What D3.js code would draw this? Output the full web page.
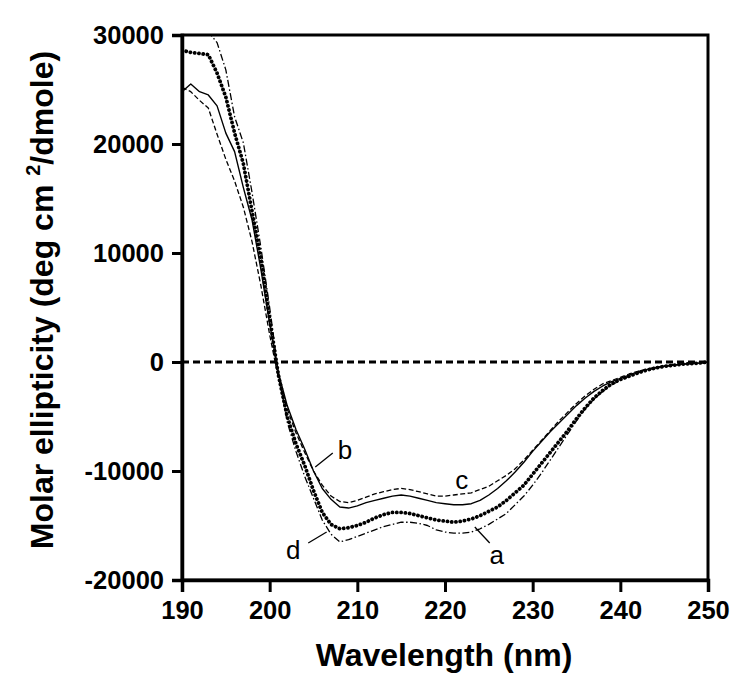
<!DOCTYPE html>
<html><head><meta charset="utf-8">
<script src="https://cdn.jsdelivr.net/npm/d3@7"></script>
<style>body{margin:0;background:#fff}</style>
</head><body>
<svg id="chart" width="750" height="685"></svg>
<script>
const wavelengths = d3.range(190, 251, 1);
const seriesA = [28600,28400,28300,28200,26500,24300,21000,18200,13800,9500,4000,-1200,-5000,-7500,-9500,-11800,-13800,-14900,-15300,-15200,-15000,-14700,-14300,-14000,-13800,-13800,-13900,-14100,-14300,-14500,-14600,-14700,-14600,-14400,-14100,-13700,-13300,-12700,-12000,-11300,-10300,-9300,-8300,-7300,-6300,-5200,-4200,-3300,-2600,-2000,-1600,-1300,-1000,-750,-550,-400,-300,-200,-150,-100,0];
const seriesB = [24800,25500,24800,24500,23500,21000,19300,16000,13000,8500,3500,-1000,-4000,-6200,-8000,-10000,-11600,-12600,-13300,-13400,-13200,-12900,-12700,-12500,-12300,-12200,-12300,-12500,-12700,-12900,-13000,-13100,-13100,-13000,-12700,-12200,-11600,-10900,-10100,-9200,-8200,-7300,-6400,-5600,-4800,-4000,-3300,-2700,-2200,-1800,-1500,-1200,-900,-700,-500,-400,-300,-200,-150,-100,0];
const seriesC = [25200,24800,24000,23300,20900,18600,16600,14200,11000,7000,2500,-1500,-4300,-6500,-8300,-10000,-11300,-12300,-12800,-12900,-12700,-12400,-12100,-11900,-11700,-11600,-11700,-11900,-12100,-12300,-12300,-12200,-12100,-12000,-11700,-11400,-10900,-10400,-9800,-9000,-8100,-7200,-6300,-5400,-4600,-3800,-3100,-2500,-2000,-1700,-1400,-1100,-850,-650,-500,-350,-250,-200,-150,-100,0];
const seriesD = [31000,31000,30800,30300,29300,26800,22500,20100,15500,10500,5000,-1000,-5500,-8200,-10500,-12500,-14500,-15800,-16500,-16300,-16000,-15700,-15400,-15100,-14900,-14700,-14700,-14800,-15000,-15400,-15600,-15700,-15700,-15600,-15300,-14900,-14400,-13900,-13100,-12300,-11300,-10200,-9000,-7800,-6600,-5400,-4300,-3400,-2700,-2100,-1700,-1300,-1000,-750,-550,-400,-300,-200,-150,-100,0];
const xTicks = [190,200,210,220,230,240,250];
const yTicks = [-20000,-10000,0,10000,20000,30000];
const seriesNames = ["a","b","c","d"];
const labelPos = [[225.9,-17700],[208.6,-8070],[221.9,-10830],[202.7,-17250]];
const leaders = [[[225.1,-16600],[223.4,-15140]],[[207.2,-8350],[205.2,-9630]],null,[[204.4,-16600],[206.5,-15600]]];

const svg = d3.select("#chart");
const L=182, R=708, T=35, B=580;
const x = d3.scaleLinear().domain([190,250]).range([L,R]);
const y = d3.scaleLinear().domain([-20000,30000]).range([B,T]);

svg.append("defs").append("clipPath").attr("id","clip")
  .append("rect").attr("x",L).attr("y",T).attr("width",R-L).attr("height",B-T);

// zero line
svg.append("line").attr("x1",L).attr("x2",R).attr("y1",y(0)).attr("y2",y(0))
  .attr("stroke","#000").attr("stroke-width",3).attr("stroke-dasharray","7,4");

const styles = [
  {w:3.8, dash:"0.1,4.2", cap:"round"},
  {w:1.4, dash:null, cap:"butt"},
  {w:1.3, dash:"5,2.5", cap:"butt"},
  {w:1.3, dash:"7,2.5,1.5,2.5", cap:"butt"}
];
const allSeries = [seriesA, seriesB, seriesC, seriesD];
const line = d3.line().x((d,i)=>x(wavelengths[i])).y(d=>y(d));
const g = svg.append("g").attr("clip-path","url(#clip)");
allSeries.forEach((s,k)=>{
  g.append("path").datum(s).attr("d",line).attr("fill","none")
   .attr("stroke","#000").attr("stroke-width",styles[k].w)
   .attr("stroke-linecap",styles[k].cap)
   .attr("stroke-linejoin","round")
   .attr("stroke-dasharray",styles[k].dash);
});

// frame
svg.append("rect").attr("x",L).attr("y",T).attr("width",R-L).attr("height",B-T)
  .attr("fill","none").attr("stroke","#000").attr("stroke-width",3);

// axes
const fmt = d => String(d);
const xAxis = d3.axisBottom(x).tickValues(xTicks).tickSize(12).tickPadding(9).tickFormat(fmt);
const yAxis = d3.axisLeft(y).tickValues(yTicks).tickSize(10).tickPadding(8).tickFormat(fmt);
const gx = svg.append("g").attr("transform",`translate(0,${B})`).call(xAxis);
const gy = svg.append("g").attr("transform",`translate(${L},0)`).call(yAxis);
[gx,gy].forEach(a=>{
  a.select(".domain").attr("stroke-width",3.5);
  a.selectAll(".tick line").attr("stroke-width",3);
  a.selectAll("text").attr("font-family","Liberation Sans, Arial, sans-serif")
   .attr("font-weight","bold").attr("font-size",25.5).attr("fill","#000");
});

// axis titles
svg.append("text").attr("x",(L+R)/2 - 1).attr("y",666)
  .attr("text-anchor","middle").attr("font-family","Liberation Sans, Arial, sans-serif")
  .attr("font-weight","bold").attr("font-size",32).text("Wavelength (nm)");
const yt = svg.append("text").attr("transform","translate(53,300) rotate(-90)")
  .attr("text-anchor","middle").attr("font-family","Liberation Sans, Arial, sans-serif")
  .attr("font-weight","bold").attr("font-size",32);
yt.append("tspan").text("Molar ellipticity (deg cm ");
yt.append("tspan").attr("font-size",20).attr("dy",-13).text("2");
yt.append("tspan").attr("dy",13).text("/dmole)");

// series labels
seriesNames.forEach((n,k)=>{
  svg.append("text").attr("x",x(labelPos[k][0])).attr("y",y(labelPos[k][1]))
    .attr("text-anchor","middle").attr("dominant-baseline","central")
    .attr("font-family","Liberation Sans, Arial, sans-serif").attr("font-size",26).text(n);
  if(leaders[k]){
    svg.append("line").attr("x1",x(leaders[k][0][0])).attr("y1",y(leaders[k][0][1]))
      .attr("x2",x(leaders[k][1][0])).attr("y2",y(leaders[k][1][1]))
      .attr("stroke","#000").attr("stroke-width",1.3);
  }
});
</script>
</body></html>
